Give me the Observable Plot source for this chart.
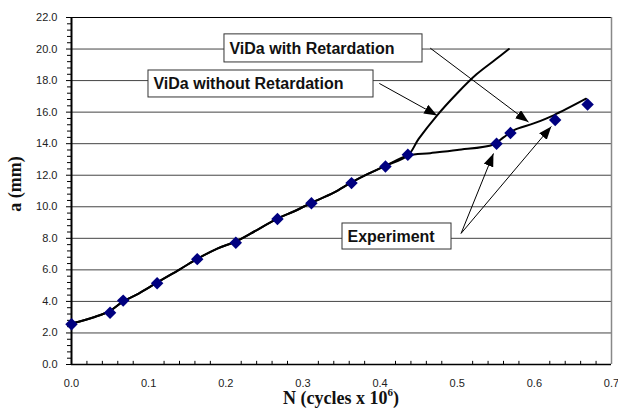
<!DOCTYPE html>
<html>
<head>
<meta charset="utf-8">
<script src="https://cdn.jsdelivr.net/npm/d3@7"></script>
<script src="https://cdn.jsdelivr.net/npm/@observablehq/plot@0.6"></script>
<style>
  html, body { margin: 0; padding: 0; background: #fff; }
  svg { display: block; }
</style>
</head>
<body>
<div id="chart"></div>
<script>
// Crack length a (mm) versus load cycles N (millions)

// Measured crack lengths
const expN = [0, 0.05, 0.067, 0.111, 0.163, 0.213, 0.267, 0.311, 0.363, 0.407, 0.436, 0.551, 0.569, 0.627, 0.669];
const expA = [2.55, 3.28, 4.05, 5.15, 6.68, 7.72, 9.22, 10.22, 11.5, 12.55, 13.3, 14.0, 14.68, 15.5, 16.48];

// ViDa prediction, shared stretch of both runs
const vidaN = [0, 0.029, 0.05, 0.067, 0.087, 0.111, 0.141, 0.163, 0.189, 0.213, 0.232, 0.267, 0.288, 0.311, 0.34, 0.363, 0.385, 0.407, 0.436];
const vidaA = [2.6, 3.0, 3.4, 4.0, 4.5, 5.2, 6.05, 6.7, 7.35, 7.8, 8.3, 9.25, 9.7, 10.25, 10.9, 11.55, 12.1, 12.6, 13.25];

// ViDa without retardation, continuation
const noRetN = [0.45, 0.474, 0.5, 0.525, 0.55, 0.567];
const noRetA = [14.3, 15.8, 17.2, 18.4, 19.35, 20.0];

// ViDa with retardation, continuation
const retN = [0.465, 0.5, 0.547, 0.56, 0.573, 0.6, 0.625, 0.667];
const retA = [13.4, 13.6, 13.95, 14.4, 14.85, 15.3, 15.8, 16.85];

// Axis ticks
const xTicks = [0, 0.1, 0.2, 0.3, 0.4, 0.5, 0.6, 0.7];
const yTicks = [0, 2, 4, 6, 8, 10, 12, 14, 16, 18, 20, 22];
const gridLevels = [2, 4, 6, 8, 10, 12, 14, 16, 18, 20];

// Callout boxes (data units)
const boxLabels = ["ViDa with Retardation", "ViDa without Retardation", "Experiment"];
const boxN1 = [0.1983, 0.0998, 0.3513];
const boxN2 = [0.455, 0.3915, 0.4926];
const boxA1 = [19.15, 16.93, 7.29];
const boxA2 = [20.93, 18.64, 8.94];

// Callout arrows (data units)
const arrowN1 = [0.465, 0.399, 0.505, 0.505];
const arrowA1 = [20.06, 17.82, 8.31, 8.31];
const arrowN2 = [0.5924, 0.474, 0.547, 0.622];
const arrowA2 = [15.37, 15.79, 13.38, 15.09];

const toPts = (xs, ys) => xs.map((x, i) => ({N: x, a: ys[i]}));
const experiment = toPts(expN, expA);
const shared = toPts(vidaN, vidaA);
const withoutRet = shared.concat(toPts(noRetN, noRetA));
const withRet = shared.concat(toPts(retN, retA));

const boxes = boxLabels.map((label, i) => ({
  label, x1: boxN1[i], x2: boxN2[i], y1: boxA1[i], y2: boxA2[i]
}));
const arrows = arrowN1.map((x, i) => ({x1: x, y1: arrowA1[i], x2: arrowN2[i], y2: arrowA2[i]}));

const yMinor = d3.range(0, 22.001, 0.4).filter(v => Math.abs(v / 2 - Math.round(v / 2)) > 1e-6);
const xMinor = d3.range(0, 0.7001, 0.02).filter(v => Math.abs(v * 10 - Math.round(v * 10)) > 1e-6);

const plot = Plot.plot({
  width: 618,
  height: 416,
  marginLeft: 71,
  marginRight: 7,
  marginTop: 17,
  marginBottom: 52,
  x: {domain: [0, 0.7]},
  y: {domain: [0, 22]},
  style: {fontFamily: "'Liberation Sans', Arial, sans-serif", fontSize: "11px", color: "#222", background: "#fff"},
  marks: [
    Plot.ruleY(gridLevels, {stroke: "#444", strokeWidth: 1}),
    Plot.ruleY([22], {stroke: "#000", strokeWidth: 1}),
    Plot.ruleX([0.7], {stroke: "#888", strokeWidth: 1.5}),
    Plot.axisY({ticks: yMinor, tickSize: 4, tickFormat: () => "", label: null, stroke: "#000"}),
    Plot.axisY({ticks: yTicks, tickSize: 5, tickPadding: 9, tickFormat: d => d.toFixed(1), label: null, stroke: "#000"}),
    Plot.ruleX(xMinor, {x: d => d, y1: 0, y2: 0.2, stroke: "#000"}),
    Plot.axisX({ticks: xTicks, tickSize: 0, tickPadding: 15, tickFormat: d => d.toFixed(1), label: null}),
    Plot.ruleX([0], {stroke: "#000", strokeWidth: 2}),
    Plot.ruleY([0], {stroke: "#000", strokeWidth: 1.5}),
    Plot.line(withoutRet, {x: "N", y: "a", curve: "catmull-rom", stroke: "#000", strokeWidth: 2}),
    Plot.line(withRet, {x: "N", y: "a", curve: "catmull-rom", stroke: "#000", strokeWidth: 2}),
    Plot.dot(experiment, {x: "N", y: "a", symbol: "diamond2", r: 5.6, fill: "#000080", stroke: "none"}),
    Plot.link(arrows, {x1: "x1", y1: "y1", x2: "x2", y2: "y2", stroke: "#000", strokeWidth: 1}),
    Plot.rect(boxes, {x1: "x1", x2: "x2", y1: "y1", y2: "y2", fill: "#fff", stroke: "#333", strokeWidth: 1}),
    Plot.text(boxes, {
      x: "x1", y: d => (d.y1 + d.y2) / 2, text: "label", textAnchor: "start", dx: 5,
      fontSize: 16, fontWeight: "bold", fill: "#111"
    })
  ]
});

document.getElementById("chart").appendChild(plot);

// Filled arrowheads on the callout links
const svg = d3.select(plot);
svg.append("defs").append("marker")
  .attr("id", "head")
  .attr("markerUnits", "userSpaceOnUse")
  .attr("markerWidth", 14).attr("markerHeight", 11)
  .attr("refX", 13).attr("refY", 5)
  .attr("orient", "auto")
  .append("path").attr("d", "M0,0L13,5L0,10Z").attr("fill", "#000");
svg.selectAll("g[aria-label='link'] path").attr("marker-end", "url(#head)");

// Axis titles
svg.append("text")
  .attr("transform", "translate(21,184) rotate(-90)")
  .attr("text-anchor", "middle")
  .attr("font-family", "'Liberation Serif', 'Times New Roman', serif")
  .attr("font-weight", "bold").attr("font-size", 18).attr("fill", "#111")
  .text("a (mm)");

const xt = svg.append("text")
  .attr("x", 341).attr("y", 404)
  .attr("text-anchor", "middle")
  .attr("font-family", "'Liberation Serif', 'Times New Roman', serif")
  .attr("font-weight", "bold").attr("font-size", 18).attr("fill", "#111");
xt.append("tspan").text("N (cycles x 10");
xt.append("tspan").attr("font-size", 11).attr("dy", -8).text("6");
xt.append("tspan").attr("dy", 8).text(")");
</script>
</body>
</html>
